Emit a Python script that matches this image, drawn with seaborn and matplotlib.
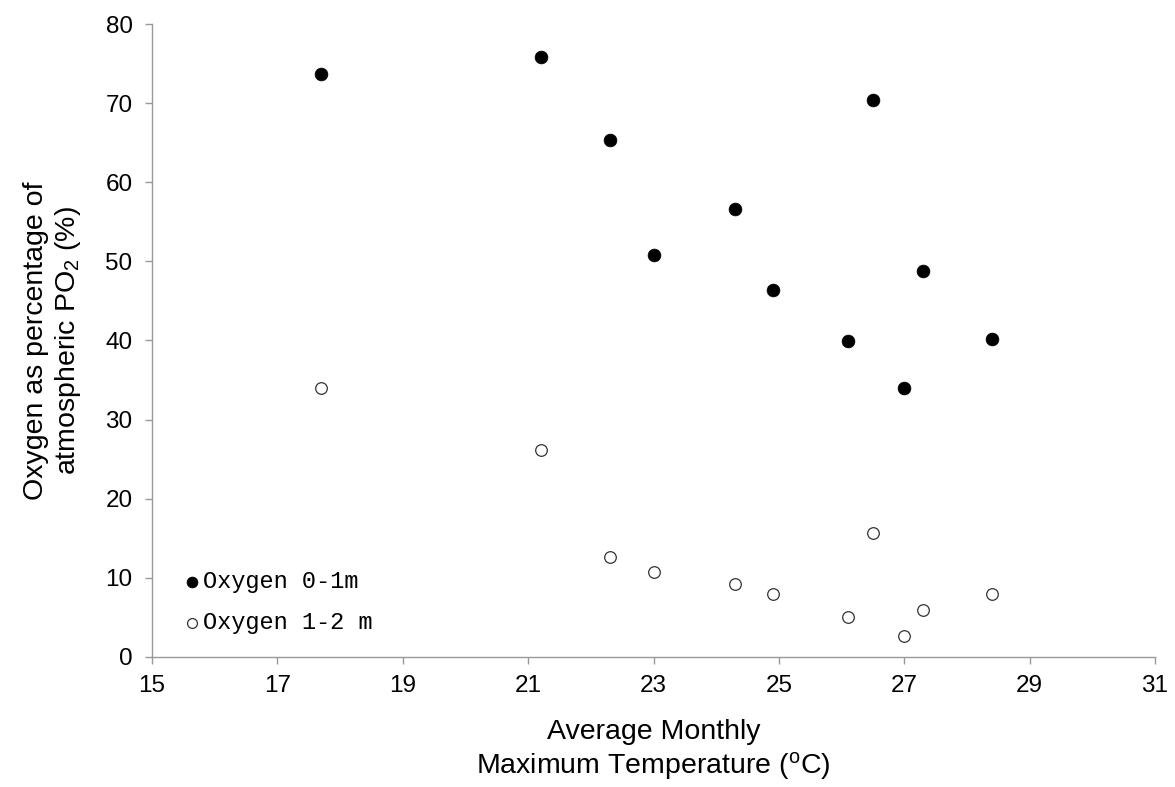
import matplotlib
matplotlib.use("Agg")
import matplotlib.pyplot as plt
import seaborn as sns
import pandas as pd

temperature = [17.7, 21.2, 22.3, 23.0, 24.3, 24.9, 26.1, 26.5, 27.0, 27.3, 28.4]
oxygen_0_1m = [73.7, 75.8, 65.3, 50.8, 56.6, 46.4, 39.9, 70.4, 34.0, 48.8, 40.2]
oxygen_1_2m = [34.0, 26.1, 12.7, 10.8, 9.2, 7.9, 5.0, 15.7, 2.6, 6.0, 8.0]
series_labels = ["Oxygen 0-1m", "Oxygen 1-2 m"]

df = pd.DataFrame({"temp": temperature, "top": oxygen_0_1m, "deep": oxygen_1_2m})

sns.set_style("white")
plt.rcParams['font.family'] = ['Liberation Sans', 'DejaVu Sans']
plt.rcParams['text.color'] = 'black'
plt.rcParams['axes.labelcolor'] = 'black'

fig = plt.figure(figsize=(11.75, 7.87), dpi=100)
ax = fig.add_axes([0.1294, 0.1652, 0.8536, 0.8043])

sns.scatterplot(data=df, x="temp", y="top", ax=ax, color="black", s=85,
                edgecolor="black", linewidth=0.5, label=series_labels[0], zorder=3)
sns.scatterplot(data=df, x="temp", y="deep", ax=ax, facecolor="white", s=70,
                edgecolor="#333333", linewidth=0.9, label=series_labels[1], zorder=3)

ax.set_xlim(15, 31)
ax.set_ylim(0, 80)
ax.set_xticks(range(15, 32, 2))
ax.set_yticks(range(0, 81, 10))
ax.tick_params(axis="both", direction="out", length=5, width=1, color="#999999",
               labelsize=17.5, labelcolor="black", bottom=True, left=True)
ax.tick_params(axis="x", pad=8)
ax.tick_params(axis="y", pad=9)
for side in ["top", "right"]:
    ax.spines[side].set_visible(False)
for side in ["left", "bottom"]:
    ax.spines[side].set_color("#999999")
    ax.spines[side].set_linewidth(1)

ax.set_xlabel("Average Monthly\nMaximum Temperature ($\\mathregular{^{o}}$C)", fontsize=20.5,
              labelpad=16, color="black")
ax.set_ylabel("Oxygen as percentage of\natmospheric PO$\\mathregular{_{2}}$ (%)", fontsize=20.5,
              labelpad=16, color="black")

leg = ax.legend(loc="lower left", bbox_to_anchor=(0.034, 0.036), frameon=False,
                prop={"family": "Liberation Mono", "size": 17},
                handlelength=0.5, handletextpad=0.2, labelspacing=0.75,
                borderpad=0, borderaxespad=0, markerscale=0.85)
for t in leg.get_texts():
    t.set_color("black")

fig.savefig("out.png", dpi=100)
